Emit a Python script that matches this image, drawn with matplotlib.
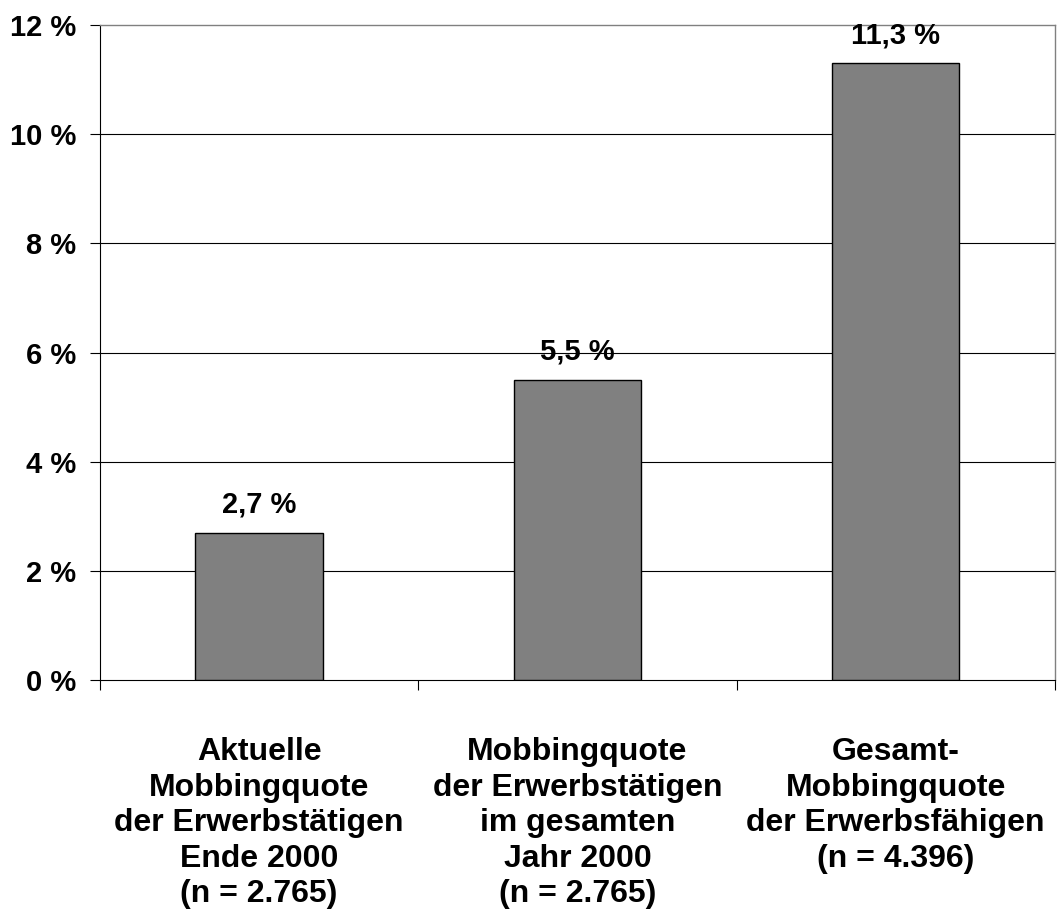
import matplotlib.pyplot as plt
import numpy as np

plt.rcParams['font.family'] = ['Liberation Sans', 'DejaVu Sans']
plt.rcParams['font.weight'] = 'bold'

categories = [
    'Aktuelle\nMobbingquote\nder Erwerbstätigen\nEnde 2000\n(n = 2.765)',
    'Mobbingquote\nder Erwerbstätigen\nim gesamten\nJahr 2000\n(n = 2.765)',
    'Gesamt-\nMobbingquote\nder Erwerbsfähigen\n(n = 4.396)',
]
values = [2.7, 5.5, 11.3]
value_labels = ['2,7 %', '5,5 %', '11,3 %']
yticks = [0, 2, 4, 6, 8, 10, 12]

fig = plt.figure(figsize=(10.58, 9.15), dpi=100)
ax = fig.add_axes([0.0945, 0.2568, 0.9025, 0.7159])

x = np.arange(len(values))
ax.bar(x, values, width=0.4, color='#808080', edgecolor='black', linewidth=1, zorder=3)

for xi, v, lab in zip(x, values, value_labels):
    ax.annotate(lab, (xi, v), xytext=(0, 14.5), textcoords='offset points',
                ha='center', va='baseline', fontsize=21, fontweight='bold')

ax.set_xlim(-0.5, len(values) - 0.5)
ax.set_ylim(0, 12)
ax.set_yticks(yticks)
ax.set_yticklabels([f'{t} %' for t in yticks], fontsize=21, fontweight='bold')
for t in yticks[1:-1]:
    ax.axhline(t, color='black', linewidth=0.8, zorder=0)

ax.set_xticks(np.arange(len(values) + 1) - 0.5)
ax.set_xticklabels([])
ax.tick_params(axis='x', length=7, width=0.8, direction='out')
ax.tick_params(axis='y', length=7, width=0.8, direction='out', pad=10)

for xi, cat in zip(x, categories):
    ax.text(xi, -1.05, cat, ha='center', va='top', fontsize=23, fontweight='bold',
            linespacing=1.24, transform=ax.transData)

for s in ['right', 'top']:
    ax.spines[s].set_color('#808080')
    ax.spines[s].set_linewidth(1)
for s in ['left', 'bottom']:
    ax.spines[s].set_linewidth(0.8)

fig.savefig('out.png', dpi=100)
